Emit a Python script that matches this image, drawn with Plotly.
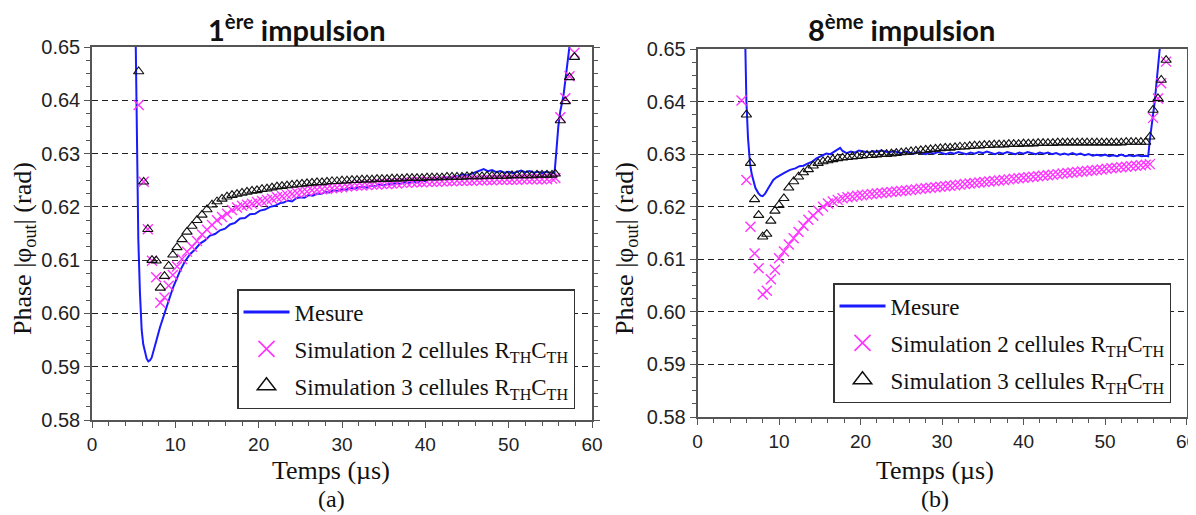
import plotly.graph_objects as go

# ---------------- data : panel (a) 1ère impulsion ----------------
t_sim_a = [5.6, 6.2, 6.7, 7.2, 7.7, 8.2, 8.7, 9.2, 9.7,
           10.2, 10.8, 11.4, 12.0, 12.6, 13.2, 13.8, 14.4, 15.0, 15.6, 16.2, 16.8, 17.4, 18.0, 18.6, 19.2, 19.8,
           20.4, 21.0, 21.6, 22.2, 22.8, 23.4, 24.0, 24.6, 25.2, 25.8, 26.4, 27.0, 27.6, 28.2, 28.8, 29.4,
           30.0, 30.6, 31.2, 31.8, 32.4, 33.0, 33.6, 34.2, 34.8, 35.4, 36.0, 36.6, 37.2, 37.8, 38.4, 39.0, 39.6,
           40.2, 40.8, 41.4, 42.0, 42.6, 43.2, 43.8, 44.4, 45.0, 45.6, 46.2, 46.8, 47.4, 48.0, 48.6, 49.2, 49.8,
           50.4, 51.0, 51.6, 52.2, 52.8, 53.4, 54.0, 54.6, 55.2, 55.6, 56.2, 56.8, 57.3, 57.9]
sim3_a = [0.6454, 0.6247, 0.6158, 0.6100, 0.6099, 0.6048, 0.6070, 0.6089, 0.6110,
          0.6124, 0.6139, 0.6153, 0.6164, 0.6175, 0.6185, 0.6195, 0.6204, 0.6210, 0.6215, 0.6219, 0.6222, 0.6224, 0.6226, 0.6228, 0.6230, 0.6231,
          0.6233, 0.6234, 0.6236, 0.6238, 0.6239, 0.6240, 0.6241, 0.6242, 0.6243, 0.6244, 0.6245, 0.6246, 0.6246, 0.6247, 0.6248, 0.6248,
          0.6249, 0.6249, 0.6250, 0.6250, 0.6251, 0.6251, 0.6251, 0.6252, 0.6252, 0.6252, 0.6253, 0.6253, 0.6253, 0.6254, 0.6254, 0.6254, 0.6254,
          0.6255, 0.6255, 0.6255, 0.6255, 0.6256, 0.6256, 0.6256, 0.6256, 0.6257, 0.6257, 0.6257, 0.6257, 0.6258, 0.6258, 0.6258, 0.6258, 0.6258,
          0.6259, 0.6259, 0.6259, 0.6259, 0.6259, 0.6260, 0.6260, 0.6260, 0.6260, 0.6262, 0.6362, 0.6398, 0.6443, 0.6481]
sim2_a = [0.6391, 0.6247, 0.6158, 0.6099, 0.6068, 0.6020, 0.6030, 0.6052, 0.6072,
          0.6088, 0.6102, 0.6116, 0.6125, 0.6136, 0.6148, 0.6157, 0.6166, 0.6175, 0.6181, 0.6187, 0.6194, 0.6199, 0.6202, 0.6204, 0.6206, 0.6209,
          0.6211, 0.6213, 0.6215, 0.6218, 0.6220, 0.6222, 0.6224, 0.6226, 0.6228, 0.6229, 0.6231, 0.6232, 0.6233, 0.6234, 0.6235, 0.6236,
          0.6237, 0.6238, 0.6239, 0.6240, 0.6240, 0.6241, 0.6242, 0.6242, 0.6243, 0.6243, 0.6244, 0.6244, 0.6245, 0.6245, 0.6246, 0.6246, 0.6246,
          0.6247, 0.6247, 0.6247, 0.6248, 0.6248, 0.6248, 0.6249, 0.6249, 0.6249, 0.6249, 0.6250, 0.6250, 0.6250, 0.6250, 0.6251, 0.6251, 0.6251,
          0.6251, 0.6251, 0.6252, 0.6252, 0.6252, 0.6252, 0.6252, 0.6252, 0.6253, 0.6254, 0.6368, 0.6404, 0.6445, 0.6489]
t_mes_a = [5.10, 5.28, 5.40, 5.56, 5.75, 5.96, 6.15, 6.36, 6.56, 6.76, 6.96, 7.16, 7.46, 7.76, 8.16, 8.56,
           9.16, 9.76, 10.16, 10.56, 11.16, 11.76, 12.36, 12.96, 13.56, 14.16, 14.76, 15.36, 15.96, 16.56, 17.16, 17.76,
           18.36, 18.96, 19.56, 20.16, 20.76, 21.36, 21.96, 22.56,
           23.0, 23.5, 24.0, 24.5, 25.0, 25.5, 26.0, 26.5, 27.0, 27.5, 28.0, 28.5, 29.0, 29.5,
           30.0, 30.5, 31.0, 31.5, 32.0, 32.5, 33.0, 33.5, 34.0, 34.5, 35.0, 35.5, 36.0, 36.5, 37.0, 37.5, 38.0, 38.5, 39.0, 39.5,
           40.0, 40.5, 41.0, 41.5, 42.0, 42.5, 43.0, 43.5, 44.0, 44.5, 45.0, 45.5, 46.0, 46.5, 47.0, 47.5, 48.0, 48.5, 49.0, 49.5,
           50.0, 50.5, 51.0, 51.5, 52.0, 52.5, 53.0, 53.5, 54.0, 54.5, 55.0, 55.5, 55.7, 55.96, 56.2, 56.56, 56.9, 57.28, 57.6]
mes_a = [0.6680, 0.6500, 0.6350, 0.6138, 0.6040, 0.5969, 0.5942, 0.5926, 0.5915, 0.5910, 0.5912, 0.5917, 0.5932, 0.5951, 0.5974, 0.5995,
         0.6022, 0.6050, 0.6066, 0.6080, 0.6098, 0.6111, 0.6120, 0.6131, 0.6137, 0.6146, 0.6149, 0.6156, 0.6159, 0.6167, 0.6170, 0.6178,
         0.6179, 0.6186, 0.6187, 0.6193, 0.6195, 0.6200, 0.6202, 0.6207,
         0.6208, 0.6212, 0.6210, 0.6216, 0.6218, 0.6217, 0.6222, 0.6221, 0.6225, 0.6224, 0.6228, 0.6227, 0.6231, 0.6230,
         0.6233, 0.6232, 0.6236, 0.6234, 0.6237, 0.6238, 0.6236, 0.6240, 0.6239, 0.6242, 0.6240, 0.6243, 0.6242, 0.6245, 0.6243, 0.6246, 0.6245, 0.6248, 0.6246, 0.6249,
         0.6248, 0.6251, 0.6250, 0.6253, 0.6252, 0.6255, 0.6254, 0.6258, 0.6257, 0.6261, 0.6259, 0.6262, 0.6264, 0.6268, 0.6271, 0.6267, 0.6269, 0.6265, 0.6267, 0.6264,
         0.6266, 0.6263, 0.6266, 0.6268, 0.6265, 0.6267, 0.6264, 0.6266, 0.6263, 0.6266, 0.6264, 0.6263, 0.6300, 0.6351, 0.6380, 0.6407, 0.6450, 0.6500, 0.6540]

# ---------------- data : panel (b) 8ème impulsion ----------------
t_sim_b = [5.4, 6.0, 6.5, 7.0, 7.5, 8.0, 8.5, 9.0, 9.5, 10.0,
           10.6, 11.2, 11.8, 12.4, 13.0, 13.6, 14.2, 14.8, 15.4, 16.0, 16.6, 17.2, 17.8, 18.4, 19.0, 19.6,
           20.2, 20.8, 21.4, 22.0, 22.6, 23.2, 23.8, 24.4, 25.0, 25.6, 26.2, 26.8, 27.4, 28.0, 28.6, 29.2, 29.8,
           30.4, 31.0, 31.6, 32.2, 32.8, 33.4, 34.0, 34.6, 35.2, 35.8, 36.4, 37.0, 37.6, 38.2, 38.8, 39.4,
           40.0, 40.6, 41.2, 41.8, 42.4, 43.0, 43.6, 44.2, 44.8, 45.4, 46.0, 46.6, 47.2, 47.8, 48.4, 49.0, 49.6,
           50.2, 50.8, 51.4, 52.0, 52.6, 53.2, 53.8, 54.4, 55.0, 55.5, 55.9, 56.5, 56.9, 57.5]
sim2_b = [0.6402, 0.6251, 0.6162, 0.6111, 0.6083, 0.6033, 0.6040, 0.6062, 0.6080, 0.6102,
          0.6115, 0.6128, 0.6140, 0.6152, 0.6164, 0.6175, 0.6183, 0.6193, 0.6200, 0.6206, 0.6210, 0.6213, 0.6216, 0.6218, 0.6219, 0.6221,
          0.6222, 0.6223, 0.6224, 0.6225, 0.6226, 0.6227, 0.6228, 0.6229, 0.6230, 0.6231, 0.6232, 0.6233, 0.6234, 0.6235, 0.6236, 0.6237, 0.6238,
          0.6239, 0.6240, 0.6241, 0.6242, 0.6243, 0.6244, 0.6245, 0.6246, 0.6247, 0.6248, 0.6249, 0.6250, 0.6251, 0.6252, 0.6253, 0.6254,
          0.6255, 0.6256, 0.6257, 0.6258, 0.6259, 0.6260, 0.6261, 0.6262, 0.6263, 0.6264, 0.6265, 0.6266, 0.6267, 0.6268, 0.6269, 0.6270, 0.6271,
          0.6272, 0.6273, 0.6274, 0.6275, 0.6276, 0.6277, 0.6278, 0.6279, 0.6280, 0.6281, 0.6369, 0.6406, 0.6435, 0.6476]
sim3_b = [0.6600, 0.6375, 0.6283, 0.6214, 0.6184, 0.6143, 0.6148, 0.6173, 0.6192, 0.6203,
          0.6216, 0.6236, 0.6248, 0.6257, 0.6265, 0.6271, 0.6278, 0.6283, 0.6286, 0.6288, 0.6290, 0.6292, 0.6293, 0.6294, 0.6295, 0.6296,
          0.6297, 0.6298, 0.6298, 0.6299, 0.6300, 0.6300, 0.6301, 0.6302, 0.6303, 0.6304, 0.6305, 0.6306, 0.6307, 0.6308, 0.6309, 0.6310, 0.6311,
          0.6312, 0.6312, 0.6313, 0.6314, 0.6314, 0.6315, 0.6316, 0.6316, 0.6317, 0.6317, 0.6318, 0.6318, 0.6318, 0.6319, 0.6319, 0.6319,
          0.6320, 0.6320, 0.6320, 0.6321, 0.6321, 0.6321, 0.6321, 0.6322, 0.6322, 0.6322, 0.6322, 0.6322, 0.6322, 0.6322, 0.6322, 0.6322, 0.6322,
          0.6322, 0.6322, 0.6322, 0.6322, 0.6323, 0.6323, 0.6323, 0.6323, 0.6323, 0.6333, 0.6384, 0.6406, 0.6441, 0.6479]
t_mes_b = [5.60, 5.83, 6.00, 6.20, 6.44, 6.65, 6.85, 7.10, 7.46, 7.75, 7.99, 8.30, 8.68, 9.00, 9.30, 9.70,
           10.1, 10.7, 11.35, 12.0, 12.5, 13.0, 13.5, 14.0, 14.6, 15.2, 15.8, 16.3, 16.8, 17.2, 17.5, 17.8, 18.3, 18.8, 19.3, 19.8, 20.4, 21.0,
           21.5, 22.0, 22.5, 23.0, 23.5, 24.0, 24.5, 25.0, 25.5, 26.0, 26.5, 27.0, 27.5, 28.0, 28.5, 29.0, 29.5,
           30.0, 30.5, 31.0, 31.5, 32.0, 32.5, 33.0, 33.5, 34.0, 34.5, 35.0, 35.5, 36.0, 36.5, 37.0, 37.5, 38.0, 38.5, 39.0, 39.5,
           40.0, 40.5, 41.0, 41.5, 42.0, 42.5, 43.0, 43.5, 44.0, 44.5, 45.0, 45.5, 46.0, 46.5, 47.0, 47.5, 48.0, 48.5, 49.0, 49.5,
           50.0, 50.5, 51.0, 51.5, 52.0, 52.5, 53.0, 53.5, 54.0, 54.5, 55.0, 55.3, 55.5, 55.9, 56.1, 56.7, 57.0]
mes_b = [0.6720, 0.6500, 0.6400, 0.6330, 0.6283, 0.6262, 0.6251, 0.6236, 0.6226, 0.6221, 0.6220, 0.6225, 0.6235, 0.6244, 0.6251, 0.6256,
         0.6260, 0.6265, 0.6270, 0.6273, 0.6277, 0.6278, 0.6282, 0.6285, 0.6292, 0.6296, 0.6301, 0.6300, 0.6305, 0.6309, 0.6312, 0.6306, 0.6302, 0.6305, 0.6303, 0.6307, 0.6305, 0.6303,
         0.6306, 0.6304, 0.6307, 0.6305, 0.6303, 0.6306, 0.6304, 0.6302, 0.6305, 0.6303, 0.6301, 0.6304, 0.6302, 0.6300, 0.6303, 0.6301, 0.6304,
         0.6302, 0.6300, 0.6303, 0.6301, 0.6304, 0.6302, 0.6300, 0.6303, 0.6301, 0.6304, 0.6302, 0.6305, 0.6302, 0.6300, 0.6303, 0.6301, 0.6304, 0.6302, 0.6300, 0.6303,
         0.6301, 0.6304, 0.6302, 0.6300, 0.6303, 0.6301, 0.6303, 0.6300, 0.6302, 0.6299, 0.6301, 0.6299, 0.6302, 0.6299, 0.6301, 0.6298, 0.6300, 0.6297, 0.6299, 0.6297,
         0.6299, 0.6296, 0.6298, 0.6296, 0.6299, 0.6296, 0.6298, 0.6296, 0.6298, 0.6296, 0.6297, 0.6296, 0.6327, 0.6381, 0.6400, 0.6498, 0.6540]

# ---------------- text ----------------
titles = ["<b>1<sup>ère</sup> impulsion</b>", "<b>8<sup>ème</sup> impulsion</b>"]
panel_tags = ["(a)", "(b)"]
x_title = "Temps (µs)"
y_title = "Phase |φ<sub>out</sub>| (rad)"
names = ["Mesure", "Simulation 2 cellules R<sub>TH</sub>C<sub>TH</sub>", "Simulation 3 cellules R<sub>TH</sub>C<sub>TH</sub>"]

BLUE = "#1a1aff"
MAGENTA = "#ff33ff"
BLACK = "#111111"
AXC = "#555555"
SERIF = "Liberation Serif"
SANS = "Liberation Sans"

W, H = 1196, 515
OFF = 8  # the page body adds an 8px margin; shift layout positions back by that amount

fig = go.Figure()

panels = [
    dict(xa="x", ya="y", leg="legend", tm=t_mes_a, m=mes_a, ts=t_sim_a, s2=sim2_a, s3=sim3_a),
    dict(xa="x2", ya="y2", leg="legend2", tm=t_mes_b, m=mes_b, ts=t_sim_b, s2=sim2_b, s3=sim3_b),
]
for k, p in enumerate(panels):
    fig.add_trace(go.Scatter(x=p["tm"], y=p["m"], mode="lines", line=dict(color=BLUE, width=2),
                             xaxis=p["xa"], yaxis=p["ya"], showlegend=False, hoverinfo="skip"))
    fig.add_trace(go.Scatter(x=p["ts"], y=p["s2"], mode="markers",
                             marker=dict(symbol="x-thin-open", size=10, color=MAGENTA,
                                         line=dict(color=MAGENTA, width=1.4)),
                             xaxis=p["xa"], yaxis=p["ya"], showlegend=False, hoverinfo="skip"))
    fig.add_trace(go.Scatter(x=p["ts"], y=p["s3"], mode="markers",
                             marker=dict(symbol="triangle-up-open", size=9, color=BLACK,
                                         line=dict(color=BLACK, width=1.1)),
                             xaxis=p["xa"], yaxis=p["ya"], showlegend=False, hoverinfo="skip"))
    # legend-only entries (larger symbols like the original legend)
    fig.add_trace(go.Scatter(x=[None], y=[None], mode="lines", line=dict(color=BLUE, width=3), name=names[0],
                             legendgroup=f"g{k}a", xaxis=p["xa"], yaxis=p["ya"], legend=p["leg"]))
    fig.add_trace(go.Scatter(x=[None], y=[None], mode="markers", name=names[1], legendgroup=f"g{k}b",
                             marker=dict(symbol="x-thin-open", size=16, color=MAGENTA,
                                         line=dict(color=MAGENTA, width=1.6)),
                             xaxis=p["xa"], yaxis=p["ya"], legend=p["leg"]))
    fig.add_trace(go.Scatter(x=[None], y=[None], mode="markers", name=names[2], legendgroup=f"g{k}c",
                             marker=dict(symbol="triangle-up-open", size=16, color=BLACK,
                                         line=dict(color=BLACK, width=1.5)),
                             xaxis=p["xa"], yaxis=p["ya"], legend=p["leg"]))

def px_x(v):
    return (v - OFF) / W

def px_y(v):
    return 1 - (v - OFF) / H

xaxis_common = dict(range=[0, 60], dtick=10, tick0=0, showgrid=False, zeroline=False, automargin=False,
                    showline=True, linecolor=AXC, linewidth=1.5, mirror=True,
                    ticks="outside", ticklen=6, tickwidth=1.2, tickcolor=AXC,
                    minor=dict(dtick=2, ticks="outside", ticklen=4, tickcolor=AXC, tickwidth=1),
                    tickfont=dict(family=SANS, size=19, color="#222"))
yaxis_common = dict(range=[0.58, 0.65], dtick=0.01, tick0=0.58, tickformat=".2f", automargin=False,
                    showgrid=True, gridcolor="#222", griddash="6px,4px", gridwidth=1, zeroline=False,
                    showline=True, linecolor=AXC, linewidth=1.5, mirror="ticks",
                    ticks="outside", ticklen=6, tickwidth=1.2, tickcolor=AXC,
                    minor=dict(dtick=0.0025, ticks="outside", ticklen=4, tickcolor=AXC, tickwidth=1, showgrid=False),
                    tickfont=dict(family=SANS, size=20, color="#222"))

legend_common = dict(xanchor="left", yanchor="top", bgcolor="white",
                     bordercolor="#333", borderwidth=1.5, font=dict(family=SERIF, size=23, color="#111"),
                     itemwidth=46, tracegroupgap=4)

fig.update_layout(
    width=W, height=H, margin=dict(l=0, r=0, t=0, b=0, autoexpand=False),
    paper_bgcolor="white", plot_bgcolor="white",
    xaxis=dict(domain=[px_x(92), px_x(592)], anchor="y", **xaxis_common),
    yaxis=dict(domain=[px_y(420), px_y(47)], anchor="x", **yaxis_common),
    xaxis2=dict(domain=[px_x(697.5), px_x(1186.5)], anchor="y2", **xaxis_common),
    yaxis2=dict(domain=[px_y(417), px_y(49)], anchor="x2", **yaxis_common),
    legend=dict(x=px_x(237), y=px_y(289), **legend_common),
    legend2=dict(x=px_x(833), y=px_y(283), **legend_common),
)

ann = []
title_x = [297, 901]
ytitle_x = [24, 626]
xtitle_x = [331, 935]
for i in range(2):
    ann.append(dict(text=titles[i], x=px_x(title_x[i]), y=px_y(28), xref="paper", yref="paper",
                    xanchor="center", yanchor="middle", showarrow=False,
                    font=dict(family="Lato", size=29, color="#111")))
    ann.append(dict(text=y_title, x=px_x(ytitle_x[i]), y=px_y(249), xref="paper", yref="paper",
                    xanchor="center", yanchor="middle", textangle=-90, showarrow=False,
                    font=dict(family=SERIF, size=26, color="#111")))
    ann.append(dict(text=x_title, x=px_x(xtitle_x[i]), y=px_y(470), xref="paper", yref="paper",
                    xanchor="center", yanchor="middle", showarrow=False,
                    font=dict(family=SERIF, size=26, color="#111")))
    ann.append(dict(text=panel_tags[i], x=px_x(xtitle_x[i]), y=px_y(499), xref="paper", yref="paper",
                    xanchor="center", yanchor="middle", showarrow=False,
                    font=dict(family=SERIF, size=24, color="#111")))
fig.update_layout(annotations=ann)

fig.write_html("out.html")
